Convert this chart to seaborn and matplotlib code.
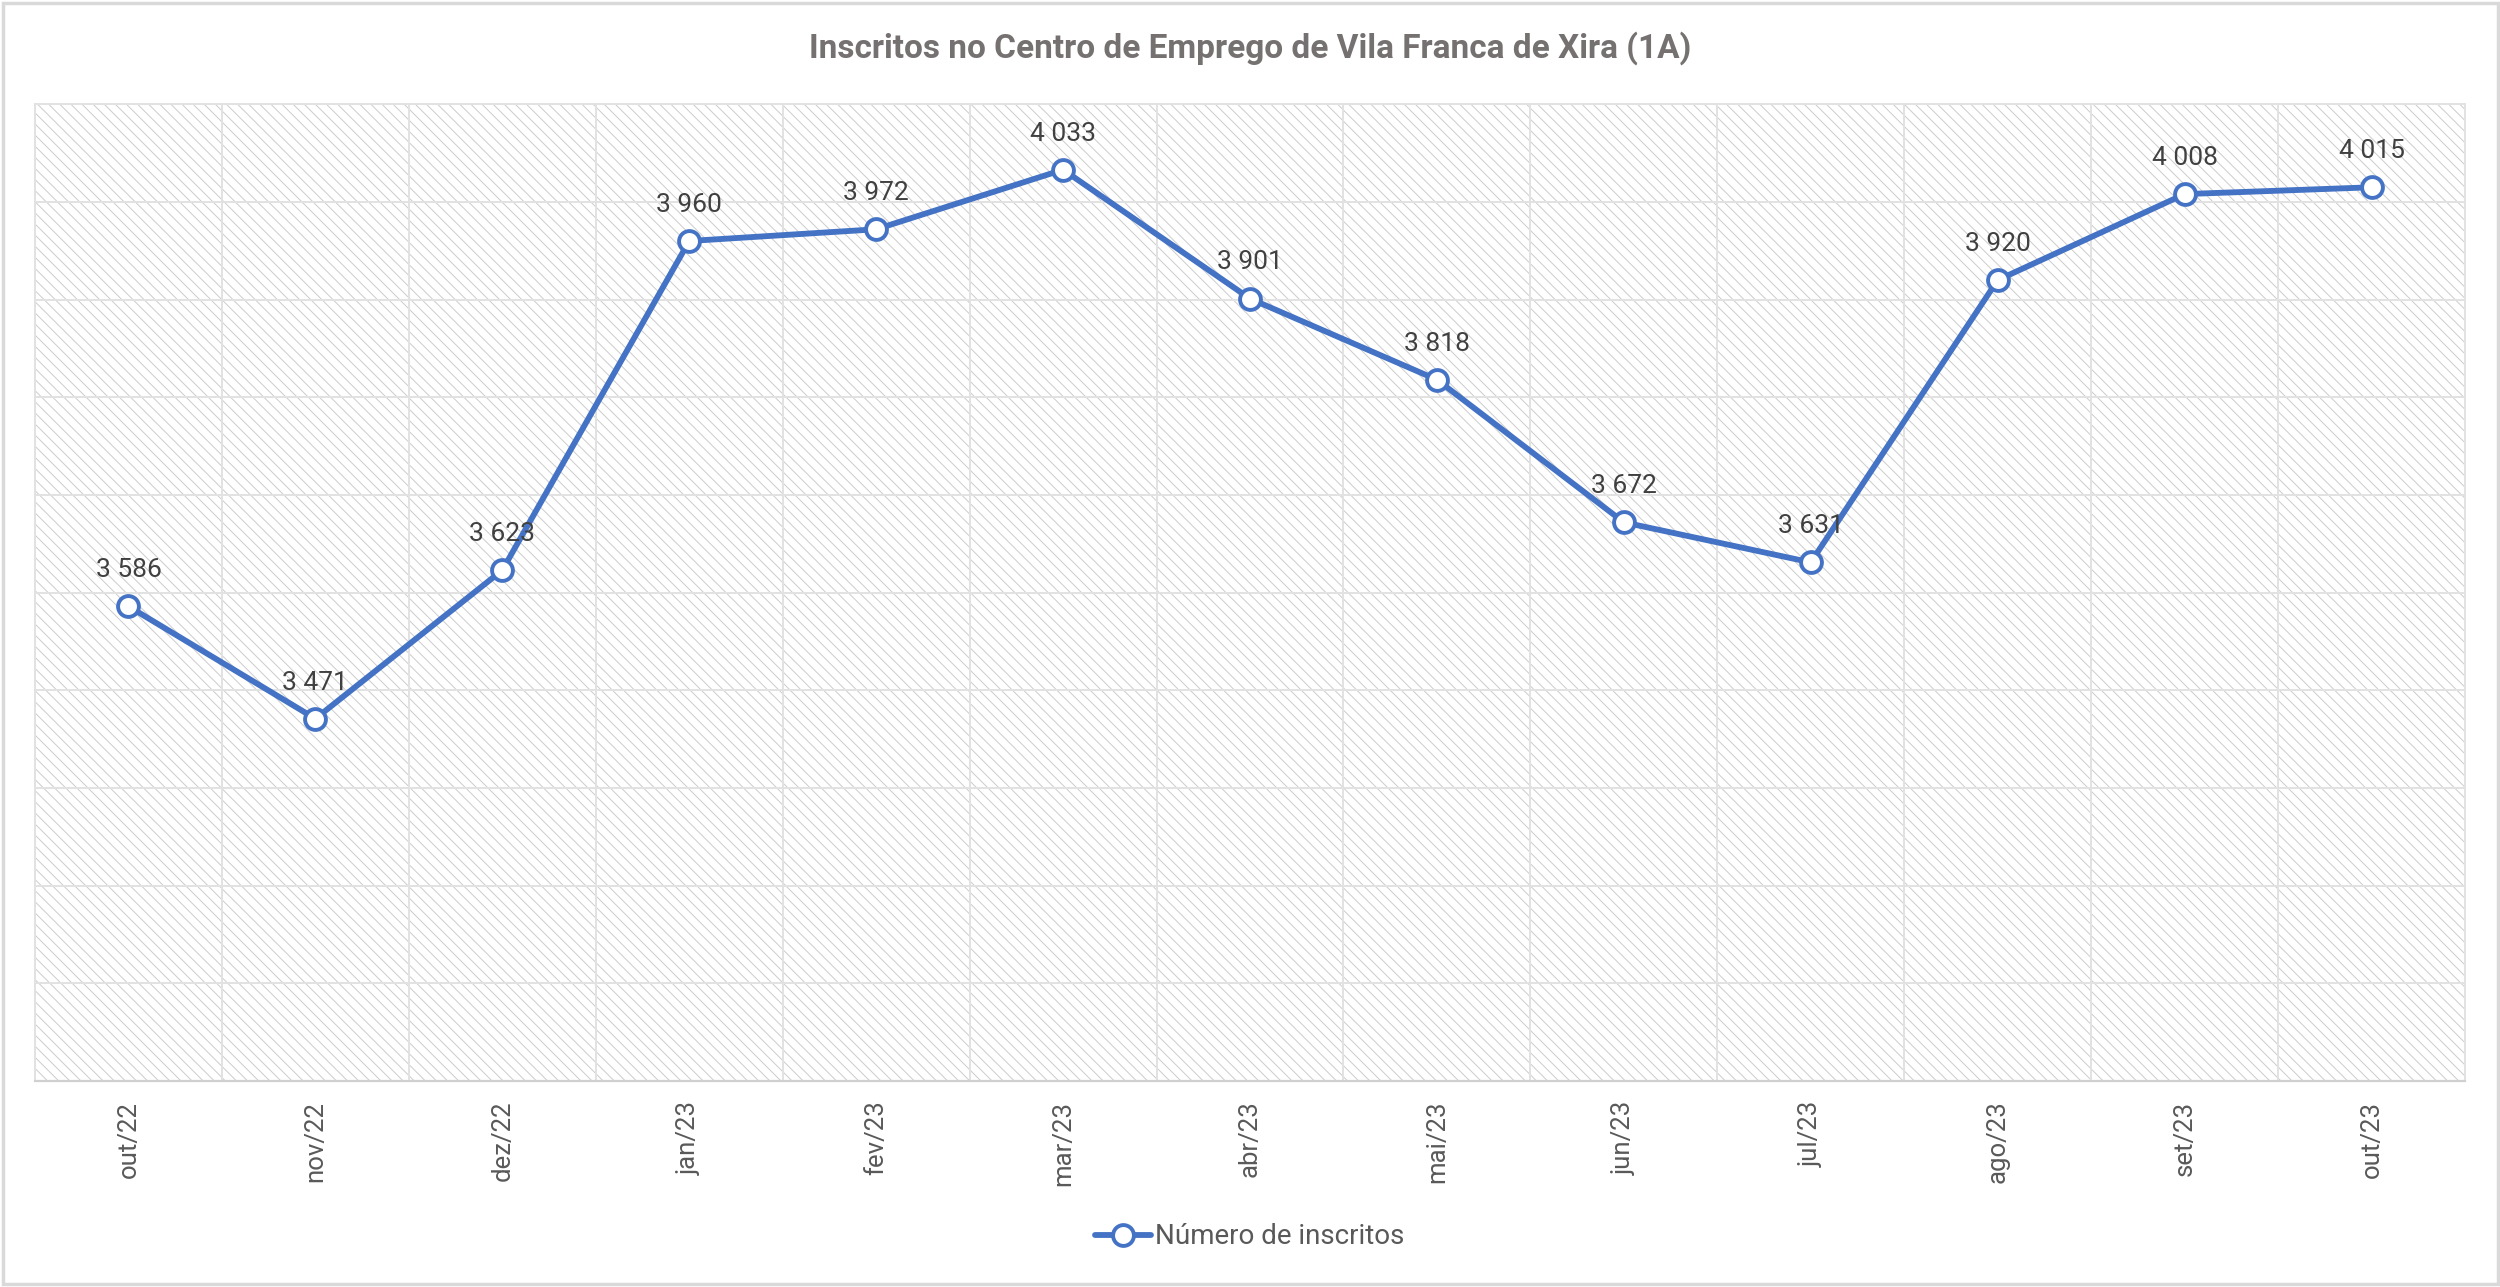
import matplotlib
matplotlib.use("Agg")
import matplotlib.pyplot as plt
import matplotlib.patches as mpatches
import seaborn as sns
import pandas as pd
import numpy as np

months = ["out/22", "nov/22", "dez/22", "jan/23", "fev/23", "mar/23", "abr/23",
          "mai/23", "jun/23", "jul/23", "ago/23", "set/23", "out/23"]
inscritos = [3586, 3471, 3623, 3960, 3972, 4033, 3901, 3818, 3672, 3631, 3920, 4008, 4015]
series_name = "Número de inscritos"
title = "Inscritos no Centro de Emprego de Vila Franca de Xira (1A)"

sns.set_theme(style="white")
plt.rcParams['font.family'] = ['Roboto', 'DejaVu Sans']
plt.rcParams['hatch.linewidth'] = 0.7

df = pd.DataFrame({"pos": np.arange(len(months)), "val": inscritos})

fig = plt.figure(figsize=(25, 12.87), dpi=100)
ax = fig.add_axes([0.014, 0.160, 0.972, 0.759])

# hatched background
bg = mpatches.Rectangle((0, 0), 1, 1, transform=ax.transAxes, facecolor="white",
                        edgecolor="#cccccc", linewidth=0, hatch="\\\\\\", zorder=0.1)
ax.add_patch(bg)

blue = "#4472C4"
sns.lineplot(data=df, x="pos", y="val", ax=ax, color=blue, linewidth=4.2,
             marker="o", markersize=15, markerfacecolor="white",
             markeredgecolor=blue, markeredgewidth=2.8, label=series_name,
             zorder=5, sort=False)

for x, v in zip(df["pos"], df["val"]):
    ax.annotate(f"{v // 1000} {v % 1000:03d}", (x, v), xytext=(0, 21),
                textcoords="offset points", ha="center", va="baseline",
                fontsize=19, color="#404040", zorder=6)

ax.set_xlim(-0.5, len(months) - 0.5)
ax.set_ylim(3100, 4100)
ax.set_yticks(np.arange(3100, 4101, 100))
ax.set_yticklabels([])
ax.set_xticks(np.arange(len(months)))
ax.set_xticklabels(months, rotation=90, fontsize=18.5, color="#595959")
ax.set_xticks(np.arange(-0.5, len(months), 1), minor=True)
ax.tick_params(axis="x", which="both", length=0, pad=14)
ax.tick_params(axis="y", length=0)
ax.grid(False)
ax.grid(axis="y", which="major", color="#e2e2e2", linewidth=1.4, zorder=0.5)
ax.grid(axis="x", which="minor", color="#e2e2e2", linewidth=1.4, zorder=0.5)
ax.set_axisbelow(True)
ax.set_xlabel("")
ax.set_ylabel("")
for s in ["top", "right", "left"]:
    ax.spines[s].set_color("#e2e2e2")
    ax.spines[s].set_linewidth(1.4)
ax.spines["bottom"].set_color("#d0d0d0")
ax.spines["bottom"].set_linewidth(1.6)

ax.legend_.remove()
handles, labels = ax.get_legend_handles_labels()
fig.legend(handles, labels, loc="center", bbox_to_anchor=(0.5, 0.039), frameon=False,
           fontsize=20, labelcolor="#595959", handlelength=2.0, handletextpad=0.15)

fig.text(0.5, 0.963, title, ha="center", va="center", fontsize=24,
         fontweight="bold", color="#767171")

border = mpatches.Rectangle((0.001, 0.002), 0.998, 0.996, transform=fig.transFigure,
                            fill=False, edgecolor="#d9d9d9", linewidth=2.5)
fig.patches.append(border)

fig.savefig("out.png", dpi=100)
